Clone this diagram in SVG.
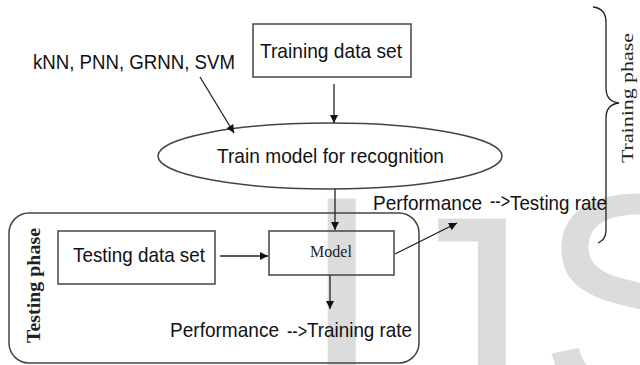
<svg xmlns="http://www.w3.org/2000/svg" width="640" height="365" viewBox="0 0 640 365">
<style>
.t{font-family:"Liberation Sans",Arial,sans-serif;font-size:21px;fill:#111}
.s{font-family:"Liberation Serif","Times New Roman",serif;fill:#222}
.box{fill:none;stroke:#444;stroke-width:1.5}
.ln{fill:none;stroke:#222;stroke-width:1.3}
.wm{font-family:"Liberation Sans",Arial,sans-serif;font-size:300px;fill:#dcdcdc}
</style>
<defs>
<marker id="ah" viewBox="0 0 10 10" refX="10" refY="5" markerWidth="9" markerHeight="8" markerUnits="userSpaceOnUse" orient="auto">
<path d="M0,0 L10,5 L0,10 z" fill="#111"/>
</marker>
</defs>
<rect width="640" height="365" fill="#fff"/>
<g id="watermark">
<text class="wm" x="300" y="405">I</text>
<text class="wm" x="378" y="425">J</text>
<text class="wm" x="538" y="403">S</text>
</g>
<g id="training-phase">
<path class="ln" d="M593,7 C601,8 606,12 606,22 L606,88 C606,97 610,102 619,103 C610,104 606,109 606,118 L606,230 C606,236 603,241 598,243"/>
<text class="s" font-size="16" textLength="130" lengthAdjust="spacingAndGlyphs" transform="translate(633,163) rotate(-90)">Training phase</text>
</g>
<g id="testing-phase">
<rect class="box" x="9" y="213" width="410" height="150" rx="20"/>
<text class="s" font-size="18" font-weight="bold" textLength="115" lengthAdjust="spacingAndGlyphs" transform="translate(40,343) rotate(-90)">Testing phase</text>
</g>
<g id="algorithms">
<text class="t" x="33" y="69" font-size="22" textLength="202" lengthAdjust="spacingAndGlyphs">kNN, PNN, GRNN, SVM</text>
</g>
<g id="training-data">
<rect class="box" x="253" y="24" width="158" height="53"/>
<text class="t" x="260" y="58" textLength="142" lengthAdjust="spacingAndGlyphs">Training data set</text>
</g>
<g id="train-model">
<ellipse class="box" cx="330" cy="156" rx="172" ry="33"/>
<text class="t" x="217" y="163" textLength="227" lengthAdjust="spacingAndGlyphs">Train model for recognition</text>
</g>
<g id="testing-data">
<rect class="box" x="58" y="231" width="157" height="53"/>
<text class="t" x="73" y="262" textLength="132" lengthAdjust="spacingAndGlyphs">Testing data set</text>
</g>
<g id="model">
<rect class="box" x="269" y="231" width="125" height="44"/>
<text class="s" x="331" y="257" font-size="16" text-anchor="middle">Model</text>
</g>
<g id="perf-testing">
<text class="t" x="373" y="210" textLength="109" lengthAdjust="spacingAndGlyphs">Performance</text>
<text class="t" x="490" y="208" font-size="13" textLength="20" lengthAdjust="spacingAndGlyphs">--&gt;</text>
<text class="t" x="510" y="210" textLength="97" lengthAdjust="spacingAndGlyphs">Testing rate</text>
</g>
<g id="perf-training">
<text class="t" x="170" y="337" textLength="109" lengthAdjust="spacingAndGlyphs">Performance</text>
<text class="t" x="287" y="338" font-size="13" textLength="20" lengthAdjust="spacingAndGlyphs">--&gt;</text>
<text class="t" x="307" y="337" textLength="105" lengthAdjust="spacingAndGlyphs">Training rate</text>
</g>
<g id="connectors">
<line class="ln" x1="200" y1="77" x2="234" y2="133" marker-end="url(#ah)"/>
<line class="ln" x1="334" y1="84" x2="334" y2="123" marker-end="url(#ah)"/>
<line class="ln" x1="335" y1="189" x2="335" y2="230" marker-end="url(#ah)"/>
<line class="ln" x1="220" y1="256" x2="268" y2="256" marker-end="url(#ah)"/>
<line class="ln" x1="395" y1="254" x2="457" y2="223" marker-end="url(#ah)"/>
<line class="ln" x1="330" y1="275" x2="330" y2="309" marker-end="url(#ah)"/>
</g>
</svg>
